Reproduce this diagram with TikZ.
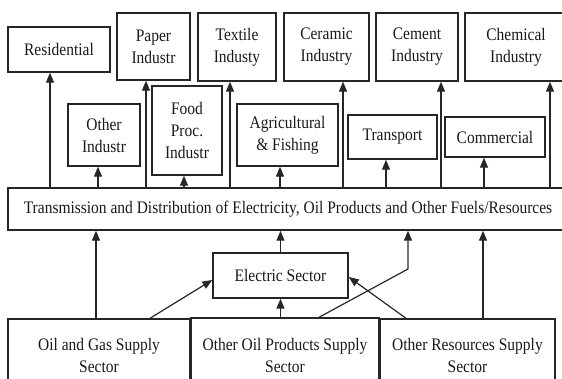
\documentclass[tikz,border=0pt]{standalone}
\usepackage{fontspec}
\setmainfont[FakeStretch=0.88]{Liberation Serif}
\usetikzlibrary{arrows.meta}
\begin{document}
\begin{tikzpicture}[x=1pt,y=-1pt,
  box/.style={draw=black!85, line width=1.4pt, inner sep=0pt, align=center,
    font=\fontsize{17.6}{22}\selectfont, text=black!90},
  arr/.style={draw=black!85, line width=1.2pt, -{Triangle[width=8pt,length=10pt]}},
  ln/.style={draw=black!85, line width=1.2pt}]
\useasboundingbox (0,0) rectangle (562,379);
\begin{scope}
\clip (0,0) rectangle (562,379);
% top row
\node[box, minimum width=102pt, minimum height=45pt] (res) at (59,49.5) {Residential};
\node[box, minimum width=73pt, minimum height=67pt] (paper) at (153.5,46.5) {Paper\\Industr};
\node[box, minimum width=78pt, minimum height=68pt] (textile) at (237,47) {Textile\\Industy};
\node[box, minimum width=85pt, minimum height=68pt] (ceramic) at (326.5,47) {Ceramic\\Industry};
\node[box, minimum width=82pt, minimum height=68pt] (cement) at (417,47) {Cement\\Industry};
\node[box, minimum width=102pt, minimum height=68pt] (chem) at (516,47) {Chemical\\Industry};
% second row
\node[box, minimum width=72pt, minimum height=62pt] (other) at (104,135) {Other\\Industr};
\node[box, minimum width=70pt, minimum height=89pt] (food) at (187,130.5) {Food\\Proc.\\Industr};
\node[box, minimum width=101pt, minimum height=62pt] (agri) at (287.5,135) {Agricultural\\\& Fishing};
\node[box, minimum width=89pt, minimum height=44pt] (transp) at (392.5,137) {Transport};
\node[box, minimum width=100pt, minimum height=40pt] (comm) at (495,137) {Commercial};
% transmission
\node[box, minimum width=560pt, minimum height=42pt] (trans) at (288,209) {Transmission and Distribution of Electricity, Oil Products and Other Fuels/Resources};
% electric
\node[box, minimum width=135pt, minimum height=45pt] (elec) at (280.5,275.5) {Electric Sector};
% bottom row
\node[box, minimum width=182pt, minimum height=72pt] (oilgas) at (99,355) {Oil and Gas Supply\\Sector};
\node[box, minimum width=188pt, minimum height=74pt] (otheroil) at (285,355) {Other Oil Products Supply\\Sector};
\node[box, minimum width=175pt, minimum height=72pt] (otherres) at (467.5,355) {Other Resources Supply\\Sector};
% arrows from transmission up
\draw[arr] (trans.north -| 50,0) -- (res.south -| 50,0);
\draw[arr] (trans.north -| 98,0) -- (other.south -| 98,0);
\draw[arr] (trans.north -| 146,0) -- (paper.south -| 146,0);
\draw[arr] (trans.north -| 184,0) -- (food.south -| 184,0);
\draw[arr] (trans.north -| 230,0) -- (textile.south -| 230,0);
\draw[arr] (trans.north -| 280,0) -- (agri.south -| 280,0);
\draw[arr] (trans.north -| 343,0) -- (ceramic.south -| 343,0);
\draw[arr] (trans.north -| 386,0) -- (transp.south -| 386,0);
\draw[arr] (trans.north -| 441,0) -- (cement.south -| 441,0);
\draw[arr] (trans.north -| 484,0) -- (comm.south -| 484,0);
\draw[arr] (trans.north -| 550,0) -- (chem.south -| 550,0);
% lower arrows
\draw[arr] (oilgas.north -| 96,0) -- (trans.south -| 96,0);
\draw[arr] (oilgas.north -| 150,0) -- (elec.west |- 0,280);
\draw[arr] (elec.north) -- (trans.south -| elec.north);
\draw[arr] (otheroil.north -| elec.south) -- (elec.south);
\coordinate (bend) at (408,269);
\draw[arr] (otheroil.north -| 319,0) -- (bend) -- (trans.south -| bend);
\draw[arr] (otherres.north -| 406,0) -- (elec.east |- 0,277);
\draw[arr] (otherres.north -| 483,0) -- (trans.south -| 483,0);
\end{scope}
\end{tikzpicture}
\end{document}
